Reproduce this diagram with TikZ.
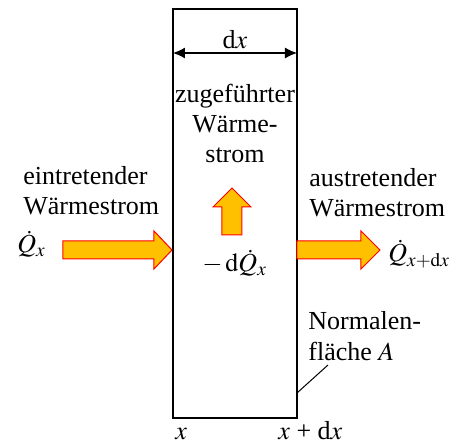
\documentclass[tikz,border=0pt]{standalone}
\usepackage{mathptmx}
\usepackage{fontspec}
\setmainfont{Liberation Serif}
\usetikzlibrary{arrows.meta}

\definecolor{amber}{HTML}{FFC000}

\begin{document}
\begin{tikzpicture}[x=0.5pt, y=-0.5pt, >={Latex[length=6pt,width=5.5pt]},
    font=\fontsize{13}{15}\selectfont,
    txt/.style={anchor=base west, inner sep=0pt, align=left},
    heatarrow/.style={draw=red, fill=amber, line width=0.5pt, line join=miter}]
    \useasboundingbox (0,0) rectangle (457,443);

    % Wall element
    \draw[line width=0.75pt] (173,9) rectangle (297,418);
    \coordinate (wallL) at (173,53);
    \coordinate (wallR) at (297,53);
    \draw[<->, line width=0.6pt] (wallL) -- (wallR) node[midway, above=1pt, inner sep=1pt] {d$x$};

    % Heat flow arrows
    \draw[heatarrow] (63,241) -- (154,241) -- (154,231) -- (172,250) -- (154,269) -- (154,259) -- (63,259) -- cycle;
    \draw[heatarrow] (297,241) -- (361,241) -- (361,231) -- (380,250) -- (361,269) -- (361,259) -- (297,259) -- cycle;
    \draw[heatarrow] (222,235) -- (222,207) -- (213,207) -- (232,188) -- (251,207) -- (242,207) -- (242,235) -- cycle;

    % Labels
    \node[txt] (qin) at (23,185) {eintretender};
    \node[txt] (qin2) at (23,215) {Wärmestrom};
    \node[txt] (qx) at (17,253) {$\dot{Q}_x$};
    \node[txt] (qout) at (309,187) {austretender};
    \node[txt] (qout2) at (309,217) {Wärmestrom};
    \node[txt] (qxdx) at (388,262) {$\dot{Q}_{x+\mathrm{d}x}$};
    \node[anchor=base, inner sep=0pt] (src1) at (235,103) {zugeführter};
    \node[anchor=base, inner sep=0pt] (src2) at (235,133) {Wärme-};
    \node[anchor=base, inner sep=0pt] (src3) at (235,163) {strom};
    \node[txt] (dq) at (202,272) {$-\,\mathrm{d}\dot{Q}_x$};
    \node[txt] (norm) at (308,330) {Normalen-};
    \node[txt] (norm2) at (308,361) {fläche $A$};
    \node[txt] (xl) at (175,440) {$x$};
    \node[txt] (xr) at (278,440) {$x$ + d$x$};

    % Leader to the normal area
    \coordinate (foot) at (297,393);
    \coordinate (lead) at (328,365);
    \draw[line width=0.5pt] (foot) -- (lead);
\end{tikzpicture}
\end{document}
